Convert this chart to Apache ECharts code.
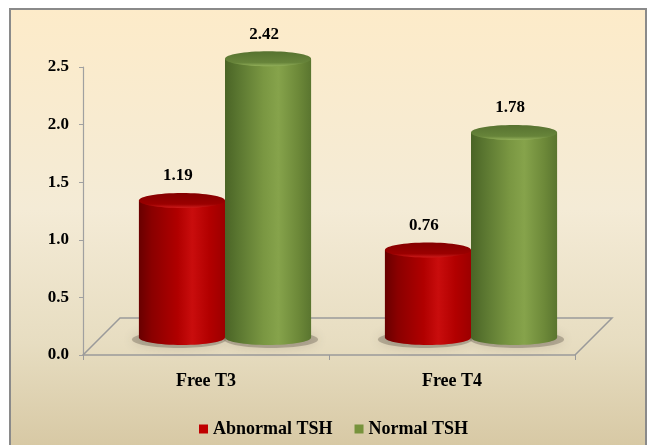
<!DOCTYPE html>
<html>
<head>
<meta charset="utf-8">
<style>
  html, body { margin: 0; padding: 0; background: #ffffff; }
  #chart { width: 651px; height: 445px; }
</style>
<script src="https://cdn.jsdelivr.net/npm/echarts@6/dist/echarts.min.js"></script>
</head>
<body>
<div id="chart"></div>
<script>
// Mean thyroid hormone levels by TSH status
const categories = ['Free T3', 'Free T4'];
const abnormalTSH = [1.19, 0.76];
const normalTSH = [2.42, 1.78];
const seriesNames = ['Abnormal TSH', 'Normal TSH'];
const yTicks = { min: 0, max: 2.5, interval: 0.5 };

const SERIF = '"Liberation Serif", "Times New Roman", serif';

// Cylinder shading per series
const palettes = [
  {
    legend: '#c00000',
    body: [
      [0, '#680000'], [0.15, '#8a0000'], [0.45, '#b00000'],
      [0.62, '#c90d0d'], [0.82, '#b20000'], [1, '#9c0000']
    ],
    top: [[0, '#840000'], [0.75, '#9a0000'], [1, '#cc1a1a']]
  },
  {
    legend: '#77933c',
    body: [
      [0, '#4a6426'], [0.15, '#5a7630'], [0.45, '#7a9742'],
      [0.62, '#86a34b'], [0.85, '#6d8939'], [1, '#5a752f']
    ],
    top: [[0, '#577230'], [0.75, '#67843a'], [1, '#93b05a']]
  }
];

function grad(stops, vertical) {
  return {
    type: 'linear', x: 0, y: 0, x2: vertical ? 0 : 1, y2: vertical ? 1 : 0,
    colorStops: stops.map(s => ({ offset: s[0], color: s[1] }))
  };
}

function cylinder(seriesIdx) {
  const pal = palettes[seriesIdx];
  return function (params, api) {
    const cat = api.value(0);
    const val = api.value(1);
    const base = api.coord([cat, 0]);
    const top = api.coord([cat, val]);
    const band = api.size([1, 0])[0];
    const w = band * 0.35;
    const cx = base[0] + (seriesIdx === 0 ? -w / 2 : w / 2);
    const rx = w / 2, ry = 7.5;
    return {
      type: 'group',
      children: [
        {
          type: 'ellipse', z2: -5,
          shape: { cx: cx + (seriesIdx === 0 ? -3 : 3), cy: base[1] + 2, rx: rx + 4, ry: ry + 1 },
          style: { fill: 'rgba(70,60,50,0.30)', shadowBlur: 12, shadowColor: 'rgba(60,50,40,0.55)' }
        },
        {
          type: 'rect', z2: 1,
          shape: { x: cx - rx, y: top[1], width: w, height: base[1] - top[1] },
          style: { fill: grad(pal.body, false) }
        },
        {
          type: 'ellipse', z2: 1,
          shape: { cx: cx, cy: base[1], rx: rx, ry: ry },
          style: { fill: grad(pal.body, false) }
        },
        {
          type: 'ellipse', z2: 2,
          shape: { cx: cx, cy: top[1], rx: rx, ry: ry },
          style: { fill: grad(pal.top, true) }
        },
        {
          type: 'text', z2: 10,
          x: cx - 4, y: top[1] - 24.5,
          style: {
            text: val.toFixed(2), align: 'center', verticalAlign: 'middle',
            font: 'bold 17px ' + SERIF, fill: '#000000'
          }
        }
      ]
    };
  };
}

// Floor of the 3D plot, drawn from the front category axis
function floor(params, api) {
  const c0 = api.coord([0, 0]);
  const c1 = api.coord([categories.length - 1, 0]);
  const band = api.size([1, 0])[0];
  const left = c0[0] - band / 2;
  const right = c1[0] + band / 2;
  const y = c0[1];
  const dx = 37, dy = -37;
  return {
    type: 'polyline', z2: -10,
    shape: { points: [[left, y], [left + dx, y + dy], [right + dx, y + dy], [right, y]] },
    style: { stroke: '#9a9a9a', lineWidth: 1.5, fill: null }
  };
}

const chart = echarts.init(document.getElementById('chart'), null, { renderer: 'canvas' });

chart.setOption({
  backgroundColor: '#ffffff',
  animation: false,
  graphic: [{
    type: 'rect', z: -100, silent: true,
    shape: { x: 10, y: 9, width: 636, height: 445 },
    style: {
      fill: grad([[0, '#fdebc9'], [0.45, '#f4ebd6'], [0.75, '#e7ddc1'], [1, '#d6c7a2']], true),
      stroke: '#8a8a8a', lineWidth: 2
    }
  }],
  grid: [
    { left: 83, right: 76, top: 67, bottom: 90 },
    { left: 102, right: 57, top: 49.5, bottom: 107.5 }
  ],
  legend: {
    left: 194, top: 414,
    itemWidth: 9, itemHeight: 9, itemGap: 22,
    icon: 'rect',
    data: seriesNames,
    textStyle: { fontFamily: SERIF, fontWeight: 'bold', fontSize: 18, color: '#000', lineHeight: 20 }
  },
  xAxis: [
    {
      type: 'category', gridIndex: 0, data: categories,
      axisLine: { show: true, lineStyle: { color: '#9a9a9a', width: 1.5 } },
      axisTick: { show: true, length: 5, lineStyle: { color: '#9a9a9a' } },
      axisLabel: { margin: 17, fontFamily: SERIF, fontWeight: 'bold', fontSize: 18, color: '#000' },
      splitLine: { show: false }
    },
    {
      type: 'category', gridIndex: 1, data: categories, show: false
    }
  ],
  yAxis: [
    {
      type: 'value', gridIndex: 0, min: yTicks.min, max: yTicks.max, interval: yTicks.interval,
      axisLine: { show: true, lineStyle: { color: '#a0a0a0', width: 1.2 } },
      axisTick: { show: true, length: 4, lineStyle: { color: '#a0a0a0' } },
      axisLabel: {
        margin: 14, fontFamily: SERIF, fontWeight: 'bold', fontSize: 17, color: '#000',
        formatter: v => v.toFixed(1)
      },
      splitLine: { show: false }
    },
    {
      type: 'value', gridIndex: 1, min: yTicks.min, max: yTicks.max, interval: yTicks.interval, show: false
    }
  ],
  series: [
    {
      type: 'custom', name: 'floor', xAxisIndex: 0, yAxisIndex: 0, z: 1, silent: true,
      renderItem: floor, data: [[0, 0]]
    },
    {
      type: 'custom', name: seriesNames[0], xAxisIndex: 1, yAxisIndex: 1, z: 3,
      itemStyle: { color: palettes[0].legend },
      renderItem: cylinder(0),
      data: abnormalTSH.map((v, i) => [i, v])
    },
    {
      type: 'custom', name: seriesNames[1], xAxisIndex: 1, yAxisIndex: 1, z: 3,
      itemStyle: { color: palettes[1].legend },
      renderItem: cylinder(1),
      data: normalTSH.map((v, i) => [i, v])
    }
  ]
});
</script>
</body>
</html>
